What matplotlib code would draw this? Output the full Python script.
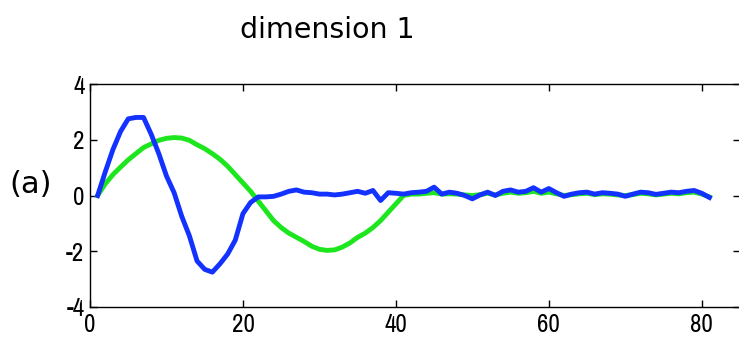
import numpy as np
import matplotlib.pyplot as plt

plt.rcParams['axes.unicode_minus'] = False

# time steps 1..81
steps = np.arange(1, 82)

blue_vals = [0.0, 0.85, 1.65, 2.3, 2.75, 2.8, 2.8, 2.2, 1.5, 0.7,
             0.1, -0.75, -1.45, -2.35, -2.65, -2.75, -2.45, -2.1, -1.6, -0.65,
             -0.25, -0.05, -0.05, -0.03, 0.05, 0.15, 0.2, 0.12, 0.1, 0.05,
             0.05, 0.02, 0.05, 0.1, 0.15, 0.08, 0.18, -0.18, 0.1, 0.08,
             0.05, 0.1, 0.12, 0.15, 0.3, 0.05, 0.12, 0.08, 0.0, -0.12,
             0.02, 0.12, 0.0, 0.15, 0.2, 0.12, 0.15, 0.28, 0.12, 0.25,
             0.1, -0.03, 0.05, 0.1, 0.12, 0.05, 0.1, 0.08, 0.05, -0.03,
             0.05, 0.12, 0.1, 0.04, 0.08, 0.12, 0.1, 0.15, 0.18, 0.08,
             -0.07]

green_vals = [0.0, 0.42, 0.75, 1.02, 1.28, 1.5, 1.72, 1.85, 1.98, 2.05,
              2.08, 2.06, 1.98, 1.82, 1.68, 1.5, 1.3, 1.05, 0.75, 0.45,
              0.15, -0.2, -0.55, -0.9, -1.15, -1.35, -1.5, -1.65, -1.82, -1.93,
              -1.97, -1.95, -1.85, -1.7, -1.5, -1.35, -1.15, -0.9, -0.6, -0.3,
              0.0, 0.05, 0.05, 0.08, 0.1, 0.05, 0.06, 0.05, 0.02, 0.0,
              0.03, 0.08, 0.02, 0.08, 0.12, 0.08, 0.1, 0.15, 0.08, 0.12,
              0.06, 0.0, 0.03, 0.06, 0.08, 0.03, 0.06, 0.05, 0.02, 0.0,
              0.03, 0.08, 0.06, 0.02, 0.05, 0.08, 0.06, 0.1, 0.12, 0.05,
              -0.05]

xticks = [0, 20, 40, 60, 80]
yticks = [-4, -2, 0, 2, 4]

# narrow font for ticks (matlab look), falls back if missing
tick_font = ['Liberation Sans Narrow', 'Archivo Narrow', 'Roboto Condensed',
             'PT Sans Narrow', 'DejaVu Sans']

fig = plt.figure(figsize=(7.39, 3.40), dpi=100)
ax = fig.add_axes([90/739, 33/340, 650/739, 223/340])

ax.plot(steps, green_vals, color='#1ee61e', lw=3.5)
ax.plot(steps, blue_vals, color='#1432ff', lw=3.5)

ax.set_xlim(0, 85)
ax.set_ylim(-4, 4)
ax.set_xticks(xticks)
ax.set_yticks(yticks)
ax.tick_params(direction='in', length=5, width=1, top=True, right=True,
               labelsize=18, pad=4)
for lab in ax.get_xticklabels() + ax.get_yticklabels():
    lab.set_family(tick_font)
    lab.set_fontweight('light')
for s in ax.spines.values():
    s.set_linewidth(1)

fig.text(327/739, 1 - 30/340, 'dimension 1', ha='center', va='center',
         fontsize=20.5, family='DejaVu Sans')
fig.text(31/739, 1 - 185/340, '(a)', ha='center', va='center',
         fontsize=22, family='DejaVu Sans')

fig.savefig('out.png', dpi=100)
